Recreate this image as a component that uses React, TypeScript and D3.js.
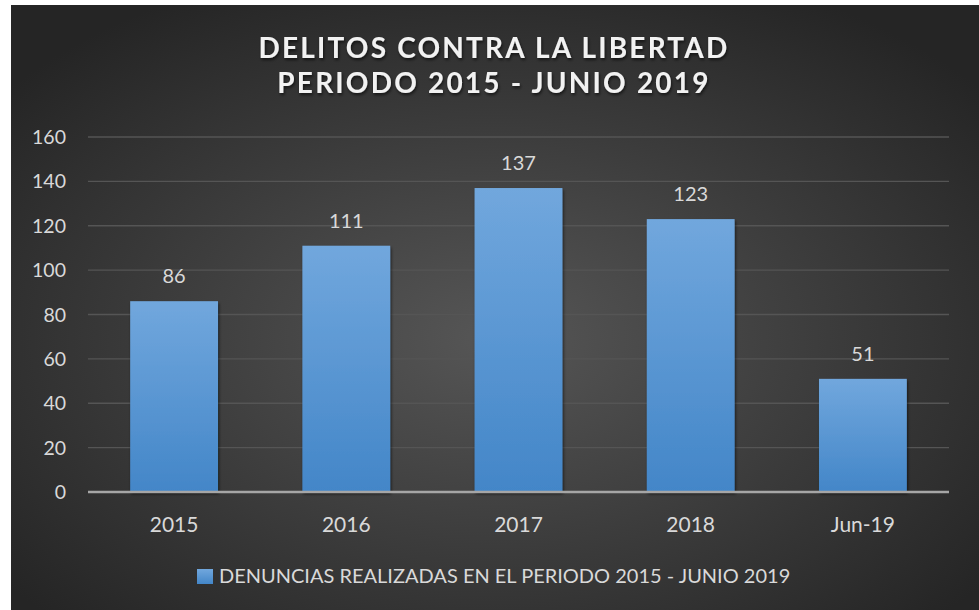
import React from 'react';
import * as d3 from 'd3';

const categories = ['2015', '2016', '2017', '2018', 'Jun-19'];
const values = [86, 111, 137, 123, 51];
const yTicks = [0, 20, 40, 60, 80, 100, 120, 140, 160];
const titleLines = ['DELITOS CONTRA LA LIBERTAD', 'PERIODO 2015 - JUNIO 2019'];
const legendLabel = 'DENUNCIAS REALIZADAS EN EL PERIODO 2015 - JUNIO 2019';

const W = 979;
const H = 610;
const font = 'Lato, "Open Sans", sans-serif';

const App: React.FC = () => {
  const margin = { left: 88, right: 30, top: 137, bottom: 118 };
  const x = d3.scaleBand()
    .domain(categories)
    .range([margin.left, W - margin.right])
    .paddingInner(0.49)
    .paddingOuter(0.245);
  const y = d3.scaleLinear()
    .domain([0, 160])
    .range([H - margin.bottom, margin.top]);

  return (
    <svg width={W} height={H} style={{ position: 'absolute', left: 0, top: 0 }}>
      <defs>
        <radialGradient id="bg" cx="50%" cy="55%" r="65%">
          <stop offset="0%" stopColor="#565656" />
          <stop offset="100%" stopColor="#252525" />
        </radialGradient>
        <linearGradient id="bar" x1="0" y1="0" x2="0" y2="1">
          <stop offset="0%" stopColor="#71a7dd" />
          <stop offset="100%" stopColor="#4386c8" />
        </linearGradient>
        <filter id="shadow" x="-20%" y="-20%" width="140%" height="140%">
          <feDropShadow dx="1" dy="2" stdDeviation="1.5" floodColor="#000" floodOpacity="0.6" />
        </filter>
      </defs>
      <rect x={0} y={0} width={W} height={H} fill="#fff" />
      <rect x={11} y={5} width={W - 11} height={H - 5} fill="url(#bg)" />

      {titleLines.map((t, i) => (
        <text key={t} x={494} y={58 + i * 35} textAnchor="middle" fill="#f2f2f2"
          fontFamily={font} fontWeight="bold" fontSize={28} letterSpacing={2.2}
          filter="url(#shadow)">{t}</text>
      ))}

      {yTicks.map(t => (
        <g key={t}>
          {t > 0 && (
            <line x1={margin.left} x2={W - margin.right} y1={y(t)} y2={y(t)}
              stroke="#555" strokeWidth={1.3} />
          )}
          <text x={66} y={y(t) + 7} textAnchor="end" fill="#d9d9d9"
            fontFamily={font} fontSize={19.5}>{t}</text>
        </g>
      ))}

      {categories.map((c, i) => (
        <g key={c}>
          <rect x={x(c)!} y={y(values[i])} width={x.bandwidth()} height={y(0) - y(values[i])}
            fill="url(#bar)" filter="url(#shadow)" />
          <text x={x(c)! + x.bandwidth() / 2} y={y(values[i]) - 18} textAnchor="middle"
            fill="#d9d9d9" fontFamily={font} fontSize={20}>{values[i]}</text>
          <text x={x(c)! + x.bandwidth() / 2} y={y(0) + 40} textAnchor="middle"
            fill="#d9d9d9" fontFamily={font} fontSize={21}>{c}</text>
        </g>
      ))}

      <line x1={margin.left} x2={W - margin.right} y1={y(0)} y2={y(0)}
        stroke="#a6a6a6" strokeWidth={2.5} />

      <rect x={197} y={569} width={16} height={15} fill="url(#bar)" />
      <text x={219} y={583} fill="#d9d9d9" fontFamily={font} fontSize={20}>{legendLabel}</text>
    </svg>
  );
};

export default App;
